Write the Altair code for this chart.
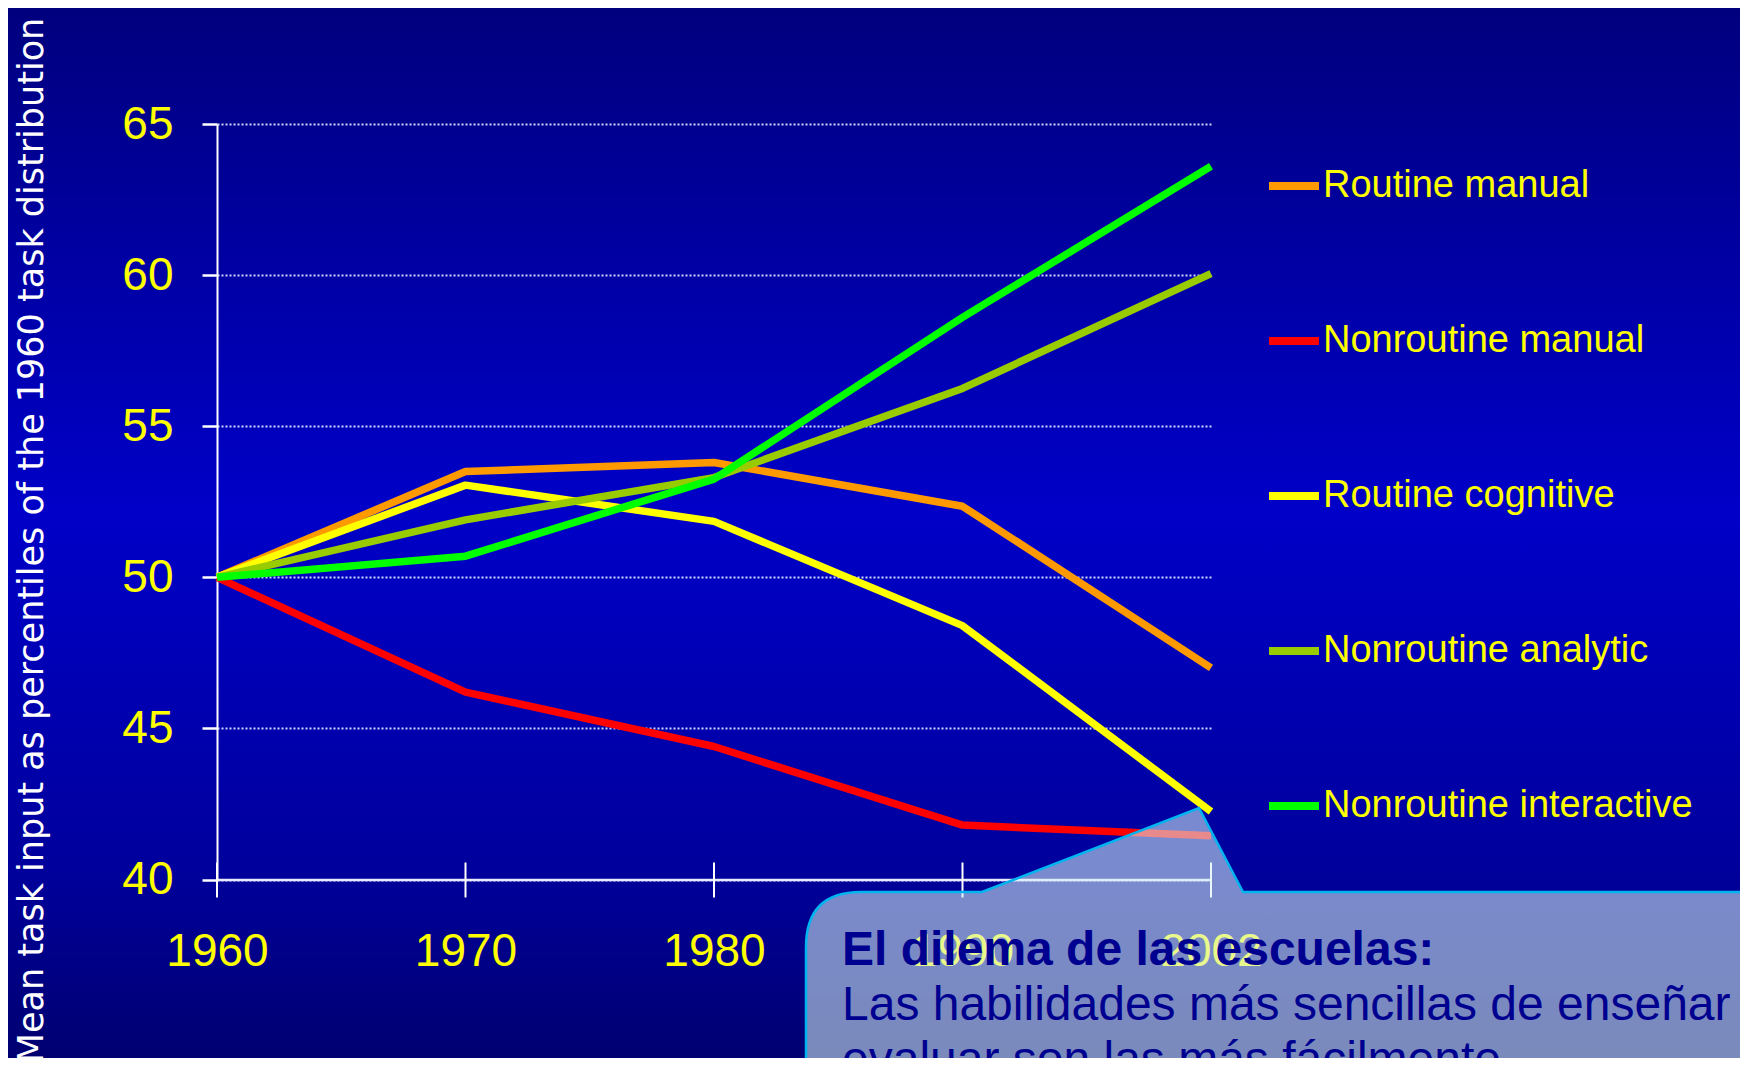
import altair as alt
import pandas as pd

# ---------------- data ----------------
years = ["1960", "1970", "1980", "1990", "2002"]
series_names = ["Routine manual", "Nonroutine manual", "Routine cognitive",
                "Nonroutine analytic", "Nonroutine interactive"]
series_colors = ["#FF9900", "#FF0000", "#FFFF00", "#99CC00", "#00FF00"]

routine_manual = [50.0, 53.5, 53.8, 52.35, 47.0]
nonroutine_manual = [50.0, 46.2, 44.4, 41.8, 41.45]
routine_cognitive = [50.0, 53.05, 51.85, 48.4, 42.25]
nonroutine_analytic = [50.0, 51.9, 53.3, 56.25, 60.05]
nonroutine_interactive = [50.0, 50.7, 53.25, 58.6, 63.6]

y_ticks = [40, 45, 50, 55, 60, 65]
y_title = "Mean task input as percentiles of  the 1960 task distribution"

callout_title = "El dilema de las escuelas:"
callout_lines = ["Las habilidades más sencillas de enseñar",
                 "evaluar son las más fácilmente"]

# draw order (bottom -> top)
draw_order = ["Routine manual", "Routine cognitive", "Nonroutine analytic",
              "Nonroutine manual", "Nonroutine interactive"]
values_by_name = {
    "Routine manual": routine_manual,
    "Nonroutine manual": nonroutine_manual,
    "Routine cognitive": routine_cognitive,
    "Nonroutine analytic": nonroutine_analytic,
    "Nonroutine interactive": nonroutine_interactive,
}
rows = []
for name in draw_order:
    for yr, v in zip(years, values_by_name[name]):
        rows.append({"year": yr, "value": v, "series": name})
df = pd.DataFrame(rows)

# ---------------- layout (chart pixel coords) ----------------
W, H = 1732, 1050
X0, X1 = 209, 1203          # plot x range
YTOP, YBOT = 116, 871.5     # y of 65 and 40

x_enc = alt.X("year:O",
              scale=alt.Scale(type="point", range=[X0, X1], padding=0),
              sort=years,
              axis=alt.Axis(orient="bottom", offset=YBOT - H, ticks=False,
                            domainColor="#E8E8FF", domainWidth=2.5,
                            labelAngle=0, labelAlign="center",
                            labelFont="Liberation Sans",
                            labelFontSize=46, labelColor="#FFFF00",
                            labelBaseline="middle", labelPadding=72,
                            grid=False, title=None))
y_enc = alt.Y("value:Q",
              scale=alt.Scale(domain=[40, 65], range=[YBOT, YTOP], nice=False, zero=False),
              axis=alt.Axis(orient="left", offset=-X0, values=y_ticks,
                            tickSize=15, tickWidth=2.5, tickColor="#FFFFFF",
                            domainColor="#FFFFFF", domainWidth=2,
                            labelFont="Liberation Sans", labelFontSize=46,
                            labelColor="#FFFF00", labelPadding=29,
                            labelBaseline="middle",
                            grid=True, gridColor="#D0D8FF", gridWidth=2,
                            gridDash=[2, 2],
                            title=y_title, titleFont="DejaVu Sans",
                            titleFontSize=35, titleFontWeight="normal",
                            titleColor="#FFFFFF", titleX=34 - X0, titleY=532,
                            titleAlign="center", titleBaseline="alphabetic",
                            titleAngle=270))

color_enc = alt.Color("series:N",
                      scale=alt.Scale(domain=series_names, range=series_colors),
                      legend=alt.Legend(orient="none", legendX=1257, legendY=149,
                                        title=None, padding=0,
                                        symbolType="stroke", symbolSize=2500,
                                        symbolStrokeWidth=8, labelOffset=0,
                                        labelFont="Liberation Sans",
                                        labelFontSize=38, labelColor="#FFFF00",
                                        labelLimit=600, rowPadding=107))

base = alt.Chart(df)

tick_rules = alt.Chart(pd.DataFrame({"year": years})).mark_rule(
    color="#FFFFFF", strokeWidth=2
).encode(x=alt.X("year:O", sort=years), y=alt.value(YBOT - 17), y2=alt.value(YBOT + 18))

lines = base.mark_line(strokeWidth=7.5, strokeJoin="round", strokeCap="butt").encode(
    x=x_enc, y=y_enc, color=color_enc, detail="series:N"
)

# callout shape (box with pointer), drawn as a custom path symbol anchored at (0,0)
callout_path = ("M 798 1200 L 798 939 Q 798 884 853 884 L 974 884 L 1191 800 "
                "L 1235 884 L 1900 884 L 1900 1200 Z")
one = pd.DataFrame({"k": [0]})
callout = alt.Chart(one).mark_point(
    shape=callout_path, size=4, filled=True, fill="#D6F2F4", fillOpacity=0.57,
    stroke="#00B4F0", strokeWidth=2.5, strokeOpacity=1, opacity=1
).encode(x=alt.value(0), y=alt.value(0))

t_title = alt.Chart(pd.DataFrame({"t": [callout_title]})).mark_text(
    align="left", baseline="alphabetic", font="Liberation Sans", fontSize=48,
    fontWeight="bold", color="#000090"
).encode(text="t:N", x=alt.value(834), y=alt.value(957))
t_line1 = alt.Chart(pd.DataFrame({"t": [callout_lines[0]]})).mark_text(
    align="left", baseline="alphabetic", font="Liberation Sans", fontSize=48,
    color="#000090"
).encode(text="t:N", x=alt.value(834), y=alt.value(1012))
t_line2 = alt.Chart(pd.DataFrame({"t": [callout_lines[1]]})).mark_text(
    align="left", baseline="alphabetic", font="Liberation Sans", fontSize=48,
    color="#000090"
).encode(text="t:N", x=alt.value(834), y=alt.value(1067))

bg_gradient = ("{gradient: 'linear', x1: 0, y1: 0, x2: 0, y2: 1, stops: ["
               "{offset: 0, color: '#00007E'}, {offset: 0.48, color: '#0000C8'}, "
               "{offset: 0.82, color: '#00009C'}, {offset: 1, color: '#000070'}]}")

chart = alt.layer(tick_rules, lines, callout, t_title, t_line1, t_line2).properties(
    width=W, height=H, padding=0,
    autosize=alt.AutoSizeParams(type="none"),
    background="#0000A8",
).configure_view(
    fill=alt.ExprRef(bg_gradient), stroke=None, strokeWidth=0
)

chart.save("out.html", embed_options={"renderer": "svg", "actions": False})
